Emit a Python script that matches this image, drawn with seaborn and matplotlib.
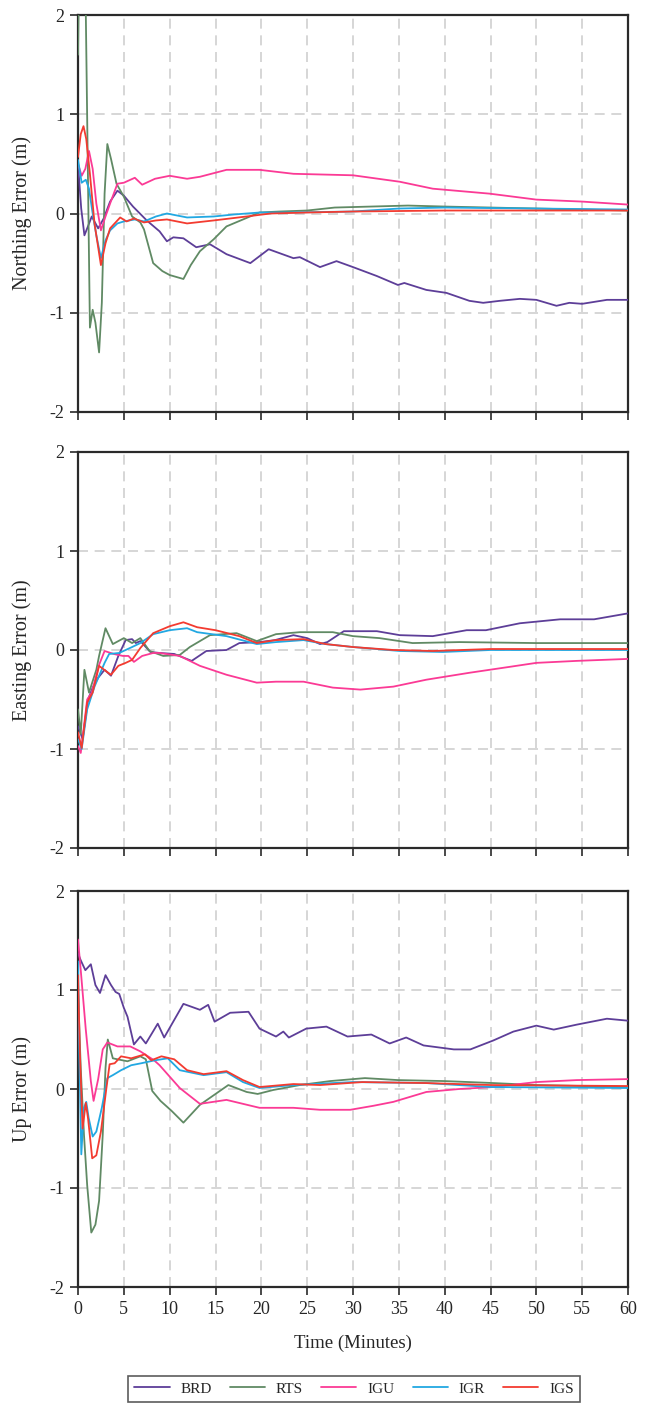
import numpy as np
import pandas as pd
import matplotlib
matplotlib.use("Agg")
import matplotlib.pyplot as plt
from matplotlib.lines import Line2D
import seaborn as sns

# ---------------- data ----------------
series_names = ["BRD", "RTS", "IGU", "IGR", "IGS"]
series_colors = ["#5D3E98", "#608A64", "#FB3A95", "#22A8E2", "#F33B30"]
panel_labels = ["Northing Error (m)", "Easting Error (m)", "Up Error (m)"]
x_ticks = list(range(0, 61, 5))
y_ticks = [-2, -1, 0, 1, 2]
x_label = "Time (Minutes)"

# Northing
n_brd_t = [0, 0.35, 0.7, 1.0, 1.5, 2.2, 2.8, 3.5, 4.3, 5.0, 6.0, 7.5, 8.9, 9.7, 10.4, 11.5, 12.9, 14.4, 16.2, 18.8,
           20.8, 22.0, 23.5, 24.2, 26.4, 28.2, 30, 32.6, 34.9, 35.6, 38, 40.2, 42.7, 44.2, 46, 48.2, 50, 52.2, 53.6, 55,
           57.7, 60]
n_brd_v = [0.5, 0.05, -0.22, -0.15, -0.03, -0.15, -0.05, 0.12, 0.23, 0.18, 0.07, -0.07, -0.18, -0.28, -0.24, -0.25,
           -0.34, -0.31, -0.41, -0.5, -0.36, -0.4, -0.45, -0.44, -0.54, -0.48, -0.54, -0.63, -0.72, -0.7, -0.77, -0.8,
           -0.88, -0.9, -0.88, -0.86, -0.87, -0.93, -0.9, -0.91, -0.87, -0.87]
n_rts_t = [0, 0.1, 0.5, 0.84, 1.3, 1.6, 1.9, 2.3, 2.6, 2.9, 3.2, 3.6, 4.2, 5.0, 5.9, 6.8, 7.2, 8.2, 9.2, 10,
           11.5, 12.3, 13.3, 14.8, 16.2, 18, 19.8, 22, 25, 28, 32, 36, 40, 45, 50, 55, 60]
n_rts_v = [1.6, 2.3, 2.6, 2.1, -1.15, -0.97, -1.1, -1.4, -0.9, 0.2, 0.7, 0.55, 0.3, 0.17, -0.03, -0.09, -0.16, -0.5,
           -0.58, -0.62, -0.66, -0.52, -0.38, -0.26, -0.13, -0.06, 0.01, 0.02, 0.03, 0.06, 0.07, 0.08, 0.07, 0.06, 0.05,
           0.04, 0.03]
n_igu_t = [0, 0.4, 0.8, 1.2, 1.6, 2.0, 2.5, 3.0, 3.5, 4.3, 5, 6.2, 7.0, 8.4, 10, 11.9, 13.3, 16.2, 19.8, 23.5, 30,
           35.1, 38.7, 44.9, 50, 55, 60]
n_igu_v = [0.5, 0.38, 0.45, 0.63, 0.45, 0.1, -0.17, -0.03, 0.1, 0.3, 0.31, 0.36, 0.29, 0.35, 0.38, 0.35, 0.37, 0.44,
           0.44, 0.40, 0.385, 0.32, 0.25, 0.20, 0.14, 0.12, 0.09]
n_igr_t = [0, 0.4, 0.85, 1.2, 1.6, 2.0, 2.5, 3.0, 3.5, 4.3, 5.0, 6.2, 7.2, 8.5, 9.7, 11.9, 14.8, 17, 19.8, 23, 30, 35,
           40, 50, 60]
n_igr_v = [0.54, 0.31, 0.34, 0.25, 0.0, -0.22, -0.45, -0.27, -0.17, -0.1, -0.08, -0.06, -0.08, -0.03, 0.0, -0.04,
           -0.03, -0.01, 0.01, 0.01, 0.02, 0.05, 0.06, 0.05, 0.04]
n_igs_t = [0, 0.3, 0.6, 0.9, 1.3, 1.8, 2.5, 3.0, 3.5, 4.6, 5.3, 6.1, 7.2, 8.5, 9.7, 11.9, 14.8, 18.4, 21, 25, 30, 40,
           50, 60]
n_igs_v = [0.57, 0.8, 0.88, 0.75, 0.4, -0.1, -0.52, -0.3, -0.15, -0.04, -0.08, -0.05, -0.09, -0.07, -0.06, -0.1,
           -0.07, -0.03, 0.0, 0.01, 0.02, 0.03, 0.03, 0.03]

# Easting
e_brd_t = [0, 0.5, 1.1, 1.6, 2.2, 2.9, 3.6, 4.4, 5.2, 5.9, 6.3, 6.8, 7.9, 8.9, 10.5, 12.4, 14, 16.2, 17.6, 19.8,
           21.5, 23.5, 25, 26.4, 27.2, 29, 32.6, 35.1, 38.7, 42.4, 44.5, 48.2, 52.6, 56.3, 60]
e_brd_v = [-0.77, -0.9, -0.5, -0.38, -0.28, -0.2, -0.26, -0.06, 0.1, 0.11, 0.07, 0.09, -0.02, -0.03, -0.04, -0.11,
           -0.01, 0.0, 0.07, 0.08, 0.1, 0.15, 0.12, 0.06, 0.08, 0.19, 0.19, 0.15, 0.14, 0.2, 0.2, 0.27, 0.31, 0.31, 0.37]
e_rts_t = [0, 0.3, 0.7, 1.2, 2.0, 2.3, 3.0, 3.8, 5.0, 5.9, 6.8, 7.8, 9.3, 11.1, 12.2, 14.4, 17.3, 19.5, 21.6, 24.2,
           27.8, 30, 32.9, 36.5, 41.6, 50, 60]
e_rts_v = [-0.6, -0.85, -0.2, -0.43, -0.2, -0.06, 0.22, 0.06, 0.12, 0.07, 0.12, -0.01, -0.06, -0.05, 0.03, 0.15, 0.17,
           0.09, 0.16, 0.18, 0.18, 0.14, 0.12, 0.07, 0.08, 0.07, 0.07]
e_igu_t = [0, 0.3, 1.0, 1.5, 2.3, 2.9, 3.9, 4.9, 5.5, 6.1, 7.0, 8.2, 8.9, 11.1, 13.3, 16.2, 19.5, 21.6, 24.6, 27.8,
           30.8, 34.4, 38, 42.7, 47.1, 50, 54.4, 60]
e_igu_v = [-0.97, -1.04, -0.5, -0.43, -0.15, -0.01, -0.04, -0.06, -0.06, -0.12, -0.06, -0.03, -0.03, -0.06, -0.16,
           -0.25, -0.33, -0.32, -0.32, -0.38, -0.4, -0.37, -0.3, -0.23, -0.17, -0.13, -0.11, -0.09]
e_igr_t = [0, 0.4, 1.0, 1.8, 2.9, 3.4, 4.5, 5.2, 5.9, 6.8, 8.2, 10, 11.9, 13, 16.2, 19.5, 21.6, 24.6, 27, 30, 35.1,
           39.8, 45, 60]
e_igr_v = [-0.9, -1.0, -0.6, -0.37, -0.13, -0.04, -0.03, 0.0, 0.03, 0.07, 0.16, 0.2, 0.22, 0.18, 0.14, 0.06, 0.08, 0.1,
           0.06, 0.03, -0.01, -0.02, 0.0, 0.0]
e_igs_t = [0, 0.4, 1.0, 1.6, 2.3, 3.0, 3.6, 4.4, 5.2, 5.9, 6.8, 8.2, 10, 11.5, 13, 15, 17.6, 19.5, 21.6, 24.6, 27, 30,
           34.4, 38.7, 45, 60]
e_igs_v = [-0.83, -0.99, -0.53, -0.43, -0.16, -0.21, -0.25, -0.16, -0.13, -0.1, 0.02, 0.17, 0.24, 0.28, 0.23, 0.2,
           0.14, 0.07, 0.1, 0.11, 0.06, 0.03, 0.0, -0.01, 0.01, 0.01]

# Up
u_brd_t = [0, 0.3, 0.8, 1.4, 1.9, 2.4, 3.0, 3.6, 4.1, 4.5, 5.0, 5.4, 6.1, 6.8, 7.4, 8.7, 9.4, 11.5, 13.3, 14.2, 14.9,
           16.6, 18.6, 19.8, 21.6, 22.4, 23.0, 24.9, 27.1, 29.4, 32, 34, 35.8, 37.7, 41, 42.8, 45.3, 47.5, 50, 51.9,
           54.4, 57.7, 60]
u_brd_v = [1.37, 1.3, 1.2, 1.26, 1.05, 0.97, 1.15, 1.05, 0.98, 0.96, 0.82, 0.73, 0.45, 0.53, 0.46, 0.66, 0.52, 0.86,
           0.8, 0.85, 0.68, 0.77, 0.78, 0.61, 0.53, 0.58, 0.52, 0.61, 0.63, 0.53, 0.55, 0.46, 0.52, 0.44, 0.4, 0.4, 0.49,
           0.58, 0.64, 0.6, 0.65, 0.71, 0.69]
u_rts_t = [0, 0.3, 0.65, 1.0, 1.45, 1.9, 2.3, 2.7, 3.0, 3.25, 3.8, 4.3, 5.4, 6.8, 7.4, 8.1, 9.0, 10.2, 11.5, 13.3,
           16.4, 18.4, 19.6, 21.3, 24.2, 27.5, 31.3, 34.9, 40, 45.3, 50, 60]
u_rts_v = [1.0, 0.21, -0.46, -0.97, -1.45, -1.37, -1.13, -0.46, 0.21, 0.5, 0.31, 0.3, 0.28, 0.33, 0.3, -0.02, -0.12,
           -0.22, -0.34, -0.16, 0.04, -0.03, -0.05, -0.01, 0.04, 0.08, 0.11, 0.09, 0.08, 0.06, 0.04, 0.02]
u_igu_t = [0, 0.3, 0.84, 1.4, 1.7, 2.2, 2.7, 3.2, 4.3, 5.7, 6.8, 8.3, 8.9, 11.1, 13.3, 16.2, 19.8, 23.5, 26.4, 29.7,
           32.2, 34.4, 38, 41.6, 45.3, 50, 54.4, 60]
u_igu_v = [1.51, 1.2, 0.61, 0.08, -0.12, 0.1, 0.4, 0.47, 0.43, 0.43, 0.38, 0.29, 0.24, 0.01, -0.15, -0.11, -0.19,
           -0.19, -0.21, -0.21, -0.17, -0.13, -0.03, 0.0, 0.02, 0.07, 0.09, 0.1]
u_igr_t = [0, 0.1, 0.36, 0.65, 0.9, 1.16, 1.6, 2.0, 2.6, 3.2, 3.8, 4.7, 5.8, 6.9, 8.4, 9.8, 11.1, 13.7, 16.2, 18, 19.8,
           23.5, 30, 38, 45, 60]
u_igr_v = [1.29, 0.55, -0.66, -0.19, -0.13, -0.29, -0.48, -0.43, -0.19, 0.11, 0.14, 0.19, 0.24, 0.26, 0.29, 0.31,
           0.19, 0.14, 0.17, 0.07, 0.01, 0.04, 0.07, 0.06, 0.02, 0.01]
u_igs_t = [0, 0.2, 0.5, 0.85, 1.1, 1.55, 2.0, 2.5, 3.1, 3.45, 4.0, 4.7, 5.8, 7.3, 8.0, 9.1, 10.5, 11.9, 13.7, 16.2, 18,
           19.8, 23.5, 26.4, 31, 38, 45, 60]
u_igs_v = [1.15, 0.38, -0.4, -0.14, -0.3, -0.7, -0.67, -0.43, 0.01, 0.25, 0.26, 0.33, 0.31, 0.35, 0.29, 0.33, 0.3,
           0.19, 0.15, 0.18, 0.09, 0.02, 0.05, 0.04, 0.07, 0.06, 0.04, 0.03]

panels = [
    [(n_brd_t, n_brd_v), (n_rts_t, n_rts_v), (n_igu_t, n_igu_v), (n_igr_t, n_igr_v), (n_igs_t, n_igs_v)],
    [(e_brd_t, e_brd_v), (e_rts_t, e_rts_v), (e_igu_t, e_igu_v), (e_igr_t, e_igr_v), (e_igs_t, e_igs_v)],
    [(u_brd_t, u_brd_v), (u_rts_t, u_rts_v), (u_igu_t, u_igu_v), (u_igr_t, u_igr_v), (u_igs_t, u_igs_v)],
]

# ---------------- style ----------------
sns.set_style("white")
plt.rcParams["font.family"] = ["Liberation Serif", "DejaVu Serif"]
plt.rcParams["axes.unicode_minus"] = False

W, H = 648, 1405
fig = plt.figure(figsize=(W / 100, H / 100), dpi=100)

left_px, right_px = 78, 628
tops = [15, 452, 891]
bottoms = [412, 848, 1287]
palette = dict(zip(series_names, series_colors))

for i, (pdata, ylab) in enumerate(zip(panels, panel_labels)):
    ax = fig.add_axes([left_px / W, 1 - bottoms[i] / H, (right_px - left_px) / W, (bottoms[i] - tops[i]) / H])
    frames = []
    for name, (t, v) in zip(series_names, pdata):
        d = pd.DataFrame({"t": t, "v": v})
        d["series"] = name
        frames.append(d)
    df = pd.concat(frames, ignore_index=True)
    sns.lineplot(data=df, x="t", y="v", hue="series", hue_order=series_names, palette=palette,
                 estimator=None, sort=False, legend=False, linewidth=1.3, ax=ax, zorder=3)
    ax.set_xlim(0, 60)
    ax.set_ylim(-2, 2)
    ax.set_xticks(x_ticks)
    ax.set_yticks(y_ticks)
    ax.grid(True, color="#cfcfcf", linestyle=(0, (6, 4)), linewidth=1.2, zorder=0)
    ax.set_axisbelow(True)
    for sp in ax.spines.values():
        sp.set_visible(True)
        sp.set_color("#2a2a2a")
        sp.set_linewidth(1.6)
    ax.tick_params(axis="both", direction="out", length=6, width=1.2, color="#2a2a2a",
                   labelsize=13, pad=4, bottom=True, left=True)
    ax.set_ylabel(ylab, fontsize=14.5, labelpad=12)
    if i < 2:
        ax.set_xticklabels([])
        ax.set_xlabel("")
    else:
        ax.set_xlabel(x_label, fontsize=13.5, labelpad=12)

handles = [Line2D([0], [0], color=c, lw=1.3) for c in series_colors]
leg = fig.legend(handles, series_names, loc="upper center", bbox_to_anchor=(354 / W, 1 - 1376 / H),
                 ncol=5, fontsize=11, frameon=True, fancybox=False, handlelength=2.3, columnspacing=1.2,
                 handletextpad=0.7, borderpad=0.4, borderaxespad=0)
leg.get_frame().set_edgecolor("#333333")
leg.get_frame().set_linewidth(1.2)

fig.savefig("out.png", dpi=100)
